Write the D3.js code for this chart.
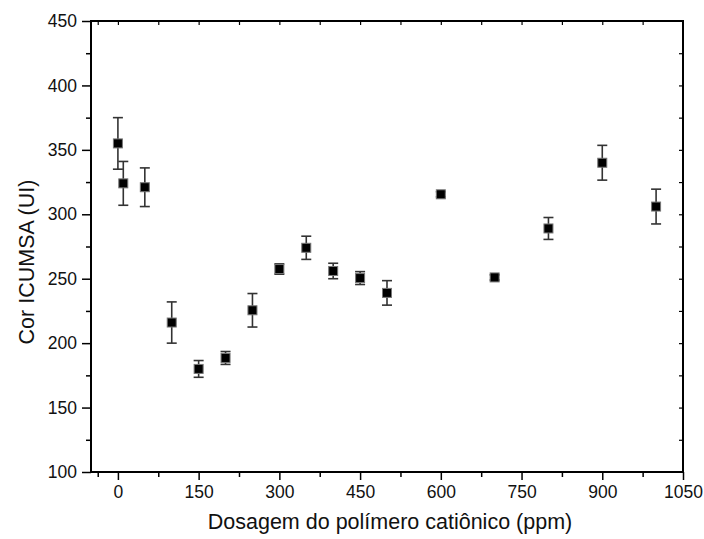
<!DOCTYPE html>
<html><head><meta charset="utf-8">
<script src="https://cdn.jsdelivr.net/npm/d3@7"></script>
<style>body{margin:0;background:#fff}svg{display:block}text{font-family:"Liberation Sans",Arial,sans-serif;fill:#111}</style>
</head><body>
<svg id="c" width="704" height="539"></svg>
<script>
const dosage = [0, 10, 50, 100, 150, 200, 250, 300, 350, 400, 450, 500, 600, 700, 800, 900, 1000];
const color  = [355, 324, 321, 216, 180, 188.5, 225.5, 257.5, 274, 256, 250.5, 239, 315.5, 251, 289, 340, 306];
const errors = [20, 17, 15, 16, 6.5, 5, 13, 4, 9, 6, 5, 9.5, 2, 2, 8.5, 13.5, 13.5];
const xTicks = [0, 150, 300, 450, 600, 750, 900, 1050];
const yTicks = [100, 150, 200, 250, 300, 350, 400, 450];
const xMinor = [-37.5, 75, 225, 375, 525, 675, 825, 975];
const yMinor = [125, 175, 225, 275, 325, 375, 425];

const svg = d3.select("#c");
const L = 91, R = 683, T = 21, B = 472;
const x = d3.scaleLinear().domain([-50, 1050]).range([L, R]);
const y = d3.scaleLinear().domain([100, 450]).range([B, T]);
const fmt = d3.format("d");

// minor ticks (outer)
svg.append("g").attr("transform", `translate(0,${B})`)
  .call(d3.axisBottom(x).tickValues(xMinor.filter(v=>v>=-50)).tickSize(5).tickFormat(""))
  .call(g=>{g.select(".domain").remove(); g.selectAll("line").attr("stroke","#000").attr("stroke-width",1.5);});
svg.append("g").attr("transform", `translate(${L},0)`)
  .call(d3.axisLeft(y).tickValues(yMinor).tickSize(5).tickFormat(""))
  .call(g=>{g.select(".domain").remove(); g.selectAll("line").attr("stroke","#000").attr("stroke-width",1.5);});

// major ticks with labels
const gx = svg.append("g").attr("transform", `translate(0,${B})`)
  .call(d3.axisBottom(x).tickValues(xTicks).tickFormat(fmt).tickSize(8).tickPadding(6).tickSizeOuter(0));
gx.select(".domain").remove();
gx.selectAll("line").attr("stroke","#000").attr("stroke-width",1.5);
gx.selectAll("text").attr("font-size","17.5px").attr("font-family","Liberation Sans, Arial, sans-serif").attr("fill","#111");

const gy = svg.append("g").attr("transform", `translate(${L},0)`)
  .call(d3.axisLeft(y).tickValues(yTicks).tickFormat(fmt).tickSize(9).tickPadding(5).tickSizeOuter(0));
gy.select(".domain").remove();
gy.selectAll("line").attr("stroke","#000").attr("stroke-width",1.5);
gy.selectAll("text").attr("font-size","17.5px").attr("font-family","Liberation Sans, Arial, sans-serif").attr("fill","#111");

// top/right inner ticks
const topVals = xTicks.concat(xMinor).filter(v=>v>-50 && v<1050);
const gt = svg.append("g").attr("transform", `translate(0,${T})`)
  .call(d3.axisTop(x).tickValues(topVals).tickSize(-4).tickFormat(""));
gt.select(".domain").remove();
gt.selectAll("line").attr("stroke","#000").attr("stroke-width",1.2);
const rightVals = yTicks.concat(yMinor).filter(v=>v>100 && v<450);
const gr = svg.append("g").attr("transform", `translate(${R},0)`)
  .call(d3.axisRight(y).tickValues(rightVals).tickSize(-4).tickFormat(""));
gr.select(".domain").remove();
gr.selectAll("line").attr("stroke","#000").attr("stroke-width",1.2);

// frame
svg.append("rect").attr("x",L).attr("y",T).attr("width",R-L).attr("height",B-T)
  .attr("fill","none").attr("stroke","#000").attr("stroke-width",2);

// error bars
const data = dosage.map((d,i)=>({d, v:color[i], e:errors[i]}));
const eb = svg.append("g").attr("stroke","#333").attr("stroke-width",1.6);
data.forEach(p=>{
  const cx = x(p.d), y1 = y(p.v + p.e), y2 = y(p.v - p.e);
  eb.append("line").attr("x1",cx).attr("x2",cx).attr("y1",y1).attr("y2",y2);
  eb.append("line").attr("x1",cx-5).attr("x2",cx+5).attr("y1",y1).attr("y2",y1);
  eb.append("line").attr("x1",cx-5).attr("x2",cx+5).attr("y1",y2).attr("y2",y2);
});

// markers
svg.append("g").selectAll("rect").data(data).join("rect")
  .attr("x", p=>x(p.d)-4.5).attr("y", p=>y(p.v)-4.5)
  .attr("width",9).attr("height",9)
  .attr("fill","#000").attr("stroke","#777").attr("stroke-width",1);

// titles
svg.append("text").attr("x",(L+R)/2+3).attr("y",529).attr("text-anchor","middle")
  .attr("font-size","21.5px").text("Dosagem do polímero catiônico (ppm)");
svg.append("text").attr("transform","translate(34,262) rotate(-90)").attr("text-anchor","middle")
  .attr("font-size","21.5px").text("Cor ICUMSA (UI)");
</script>
</body></html>
